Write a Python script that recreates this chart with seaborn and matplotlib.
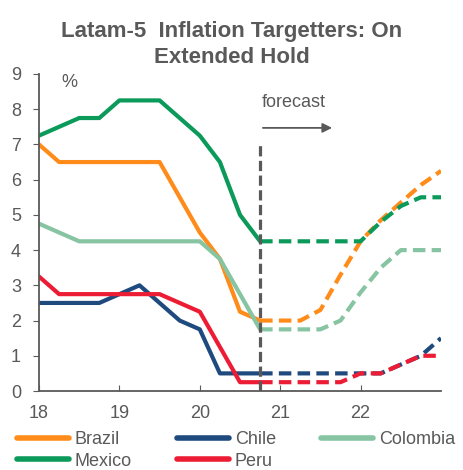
import numpy as np
import pandas as pd
import matplotlib
matplotlib.use("Agg")
import matplotlib.pyplot as plt
from matplotlib.lines import Line2D
import seaborn as sns

# quarterly policy rates, %; forecast starts at 20.75
quarters = [18.0, 18.25, 18.5, 18.75, 19.0, 19.25, 19.5, 19.75, 20.0, 20.25, 20.5, 20.75,
            21.0, 21.25, 21.5, 21.75, 22.0, 22.25, 22.5, 22.75, 23.0]
forecast_start = 20.75

brazil = [7.0, 6.5, 6.5, 6.5, 6.5, 6.5, 6.5, 5.5, 4.5, 3.75, 2.25, 2.0,
          2.0, 2.0, 2.3, 3.3, 4.25, 4.85, 5.35, 5.85, 6.25]
chile = [2.5, 2.5, 2.5, 2.5, 2.75, 3.0, 2.5, 2.0, 1.75, 0.5, 0.5, 0.5,
         0.5, 0.5, 0.5, 0.5, 0.5, 0.5, 0.75, 1.0, 1.5]
colombia = [4.75, 4.5, 4.25, 4.25, 4.25, 4.25, 4.25, 4.25, 4.25, 3.75, 2.75, 1.75,
            1.75, 1.75, 1.75, 2.0, 2.8, 3.5, 4.0, 4.0, 4.0]
mexico = [7.25, 7.5, 7.75, 7.75, 8.25, 8.25, 8.25, 7.75, 7.25, 6.5, 5.0, 4.25,
          4.25, 4.25, 4.25, 4.25, 4.25, 4.8, 5.25, 5.5, 5.5]
peru = [3.25, 2.75, 2.75, 2.75, 2.75, 2.75, 2.75, 2.5, 2.25, 1.25, 0.25, 0.25,
        0.25, 0.25, 0.25, 0.25, 0.5, 0.5, 0.75, 1.0, 1.0]

countries = ["Brazil", "Chile", "Colombia", "Mexico", "Peru"]
colors = ["#FF8C1A", "#1F4A7E", "#86C4A2", "#0B9A5A", "#EC1C34"]

series = dict(zip(countries, [brazil, chile, colombia, mexico, peru]))
rows = []
for name, vals in series.items():
    for q, v in zip(quarters, vals):
        if q <= forecast_start:
            rows.append((name, q, v, "actual"))
        if q >= forecast_start:
            rows.append((name, q, v, "forecast"))
df = pd.DataFrame(rows, columns=["country", "year", "rate", "period"])

grey = "#595959"
sns.set_style("ticks")
plt.rcParams["font.family"] = ["Liberation Sans", "DejaVu Sans"]

fig = plt.figure(figsize=(4.63, 4.70), dpi=100)
ax = fig.add_axes([39 / 463, 1 - 391 / 470, 402 / 463, 317 / 470])

sns.lineplot(data=df, x="year", y="rate", hue="country", style="period",
             hue_order=countries, palette=colors,
             dashes={"actual": "", "forecast": (3.0, 1.5)},
             units="period", estimator=None, lw=3, legend=False, ax=ax)

ax.set_xlim(18, 23)
ax.set_ylim(0, 9)
ax.set_xticks([18, 19, 20, 21, 22])
ax.set_xticklabels(["18", "19", "20", "21", "22"])
ax.set_yticks(range(10))
ax.set_xlabel("")
ax.set_ylabel("")
ax.tick_params(axis="x", direction="in", length=4, color=grey, labelcolor=grey,
               labelsize=13, pad=10)
ax.tick_params(axis="y", direction="out", length=4, color=grey, labelcolor=grey,
               labelsize=13, pad=9)
sns.despine(ax=ax)
for s in ["left", "bottom"]:
    ax.spines[s].set_color(grey)
    ax.spines[s].set_linewidth(1.3)

# forecast marker
ax.plot([forecast_start, forecast_start], [0, 7.05], color=grey, lw=2.3,
        ls=(0, (3.2, 1.4)))
ax.annotate("", xy=(21.68, 7.47), xytext=(forecast_start, 7.47),
            arrowprops=dict(arrowstyle="-|>", color=grey, lw=1.3,
                            mutation_scale=14))
ax.text(forecast_start + 0.02, 8.2, "forecast", color=grey, fontsize=13,
        va="center", ha="left")
ax.text(18.28, 8.75, "%", color=grey, fontsize=13, va="center", ha="left")

fig.text(0.5, 1 - 37 / 470, "Latam-5  Inflation Targetters: On", ha="center",
         va="baseline", fontsize=16, fontweight="bold", color=grey)
fig.text(0.5, 1 - 63 / 470, "Extended Hold", ha="center",
         va="baseline", fontsize=16, fontweight="bold", color=grey)

# legend fills column by column; order so rows read Brazil, Chile, Colombia / Mexico, Peru
leg_order = ["Brazil", "Mexico", "Chile", "Peru", "Colombia"]
handles = [Line2D([0], [0], color=colors[countries.index(n)], lw=4) for n in leg_order]
fig.legend(handles, leg_order, loc="upper left", bbox_to_anchor=(17 / 463, 1 - 431 / 470),
           ncol=3, frameon=False, fontsize=13, labelcolor=grey,
           handlelength=2.9, handletextpad=0.3, columnspacing=2.5,
           labelspacing=0.25, borderaxespad=0, borderpad=0)

fig.savefig("out.png", dpi=100)
